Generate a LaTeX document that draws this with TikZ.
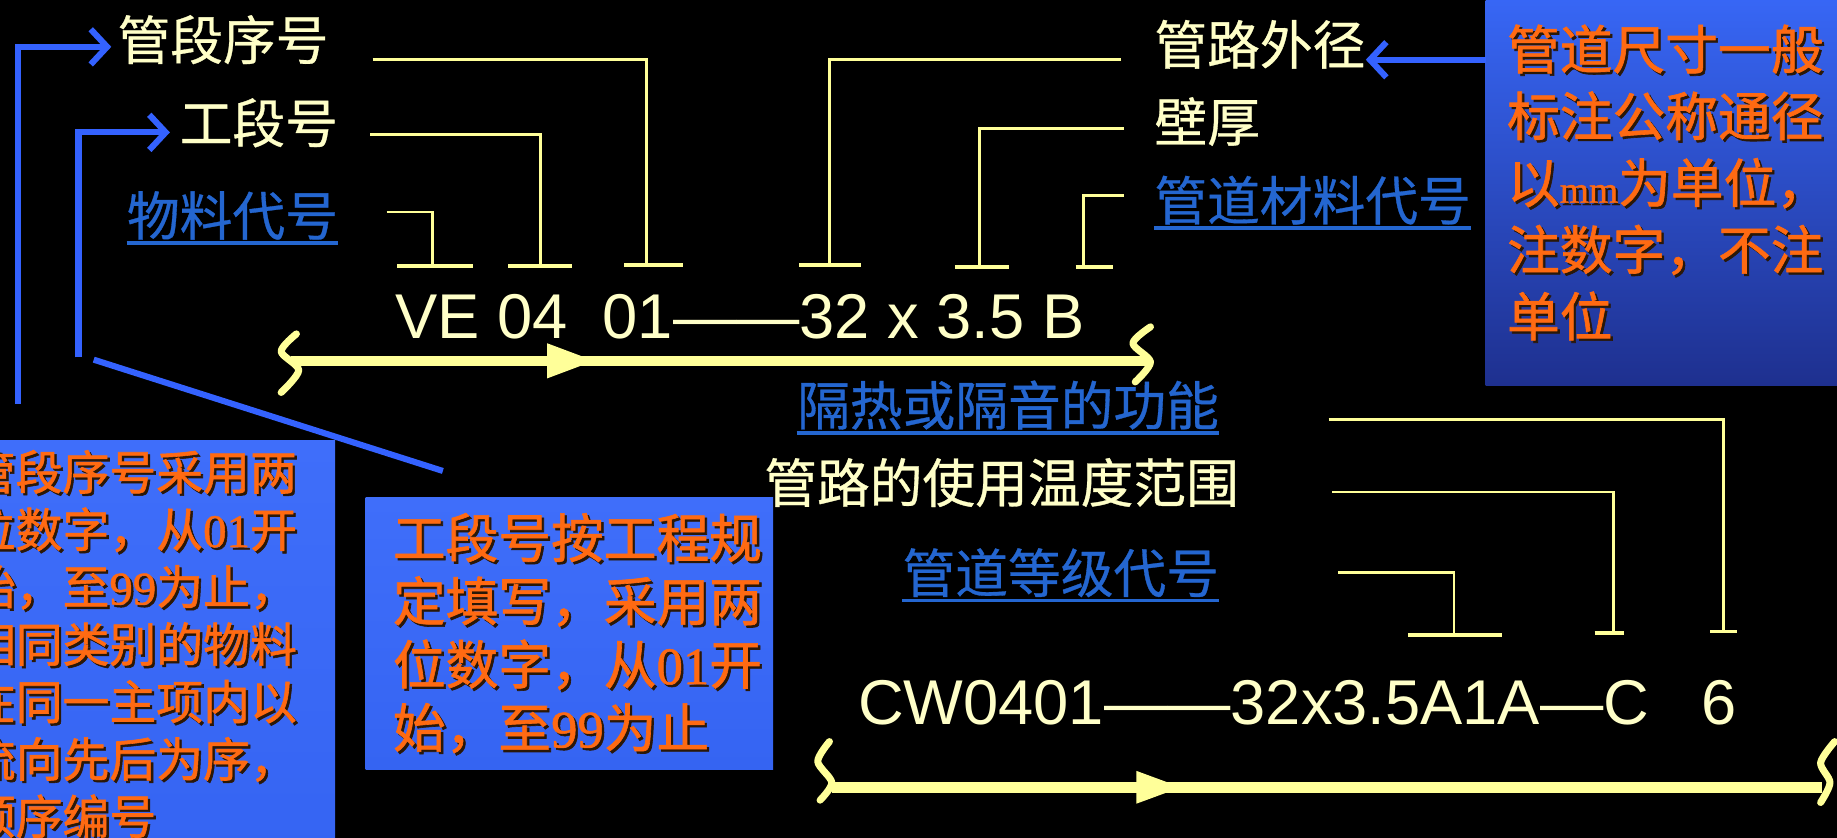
\documentclass[tikz,border=0pt]{standalone}
\usepackage{fontspec}
\newfontfamily\cjk[FakeBold=0.6]{Noto Sans CJK SC}
\newfontfamily\cjkb[FakeBold=1.2]{Noto Sans CJK SC}
\newfontfamily\arial{Liberation Sans}
\newfontfamily\tms[FakeBold=1]{Liberation Serif}
\usetikzlibrary{arrows.meta,calc}
\definecolor{ylw}{HTML}{FFFF99}
\definecolor{ytxt}{HTML}{FFFFC8}
\definecolor{lnk}{HTML}{2466D0}
\definecolor{barrow}{HTML}{3462FF}
\definecolor{org}{HTML}{FF6A12}
\definecolor{shd}{HTML}{2A1808}
\definecolor{bxtop}{HTML}{3F6EFA}
\definecolor{bxmid}{HTML}{1C2C8A}
\definecolor{bxbot}{HTML}{3564F2}
\definecolor{rbtop}{HTML}{3868F8}
\definecolor{rbbot}{HTML}{1E308F}
\begin{document}
\begin{tikzpicture}[x=0.5pt,y=-0.5pt,
  lbl/.style={anchor=west, inner sep=0pt, font=\cjk\fontsize{22.5pt}{27pt}\selectfont, text height=.7em, text depth=.3em},
  ylbl/.style={lbl, text=ytxt},
  blbl/.style={lbl, text=lnk},
  uline/.style={draw=lnk, line width=1.5pt},
  leader/.style={draw=ylw, line width=1.2pt},
  tbar/.style={draw=ylw, line width=1.6pt},
  barr/.style={draw=barrow, line width=2.6pt, -{Straight Barb[length=7pt,width=15pt]}},
  bline/.style={draw=barrow, line width=2.6pt},
  flowline/.style={draw=ylw, line width=4.5pt},
  flowhead/.style={fill=ylw},
  wave/.style={draw=ylw, line width=3pt, line cap=round, line join=round},
  code/.style={anchor=base west, inner sep=0pt, text=ytxt, font=\arial\fontsize{27pt}{32pt}\selectfont},
  otext/.style={anchor=west, inner sep=0pt, text=org, text height=.7em, text depth=.3em},
  oshadow/.style={otext, text=shd},
  fa/.style={font=\cjkb\fontsize{20pt}{24pt}\selectfont},
  fb/.style={font=\cjkb\fontsize{22.5pt}{27pt}\selectfont},
]
\clip (0,0) rectangle (1568,715);
\fill[black] (0,0) rectangle (1568,715);

% ---- boxes ----
\shade[top color=bxtop, middle color=bxmid, bottom color=bxbot] (-20,376) rectangle (286,730);
\shade[top color=bxtop, middle color=bxmid, bottom color=bxbot] (312,425) rectangle (660,657);
\shade[top color=rbtop, bottom color=rbbot] (1268,-10) rectangle (1580,329);

% ---- box texts ----
\foreach \t [count=\i] in {管段序号采用两, 位数字，从{\tms 01}开, 始，至{\tms 99}为止，, 相同类别的物料, 在同一主项内以, 流向先后为序，, 顺序编号} {
  \node[oshadow, fa] (b1s\i) at (-25,367+49*\i) {\t};
  \node[otext, fa] (b1t\i) at (-27,365+49*\i) {\t};
}
\foreach \t [count=\i] in {工段号按工程规, 定填写，采用两, 位数字，从{\tms 01}开, 始，至{\tms 99}为止} {
  \node[oshadow, fb] (b2s\i) at (337,420+54*\i) {\t};
  \node[otext, fb] (b2t\i) at (335,418+54*\i) {\t};
}
\foreach \t [count=\i] in {管道尺寸一般, 标注公称通径, 以{\tms\fontsize{16pt}{16pt}\selectfont mm}为单位，, 注数字，不注, 单位} {
  \node[oshadow, fb] (b3s\i) at (1288,0+57*\i) {\t};
  \node[otext, fb] (b3t\i) at (1286,-2+57*\i) {\t};
}

% ---- labels ----
\node[ylbl] (l1) at (100,47) {管段序号};
\node[ylbl] (l2) at (153,118) {工段号};
\node[blbl] (l3) at (108,197) {物料代号};
\node[ylbl] (r1) at (985,51) {管路外径};
\node[ylbl] (r2) at (985,117) {壁厚};
\node[blbl] (r3) at (985,184) {管道材料代号};
\node[blbl] (m1) at (680,359) {隔热或隔音的功能};
\node[ylbl] (m2) at (652,425) {管路的使用温度范围};
\node[blbl] (m3) at (770,502) {管道等级代号};
\foreach \n in {l3,r3,m1,m3} {\draw[uline] (\n.south west) -- (\n.south east);}

% ---- code strings ----
\node[code] (c1) at (337,289) {VE 04\ \ 01——32 x 3.5 B};
\node[code] (c2) at (732,618) {CW0401——32x3.5A1A—C\ \ \ 6};

% ---- leaders ----
\coordinate (p1a) at (318,51);  \coordinate (p1b) at (552,226);
\coordinate (p2a) at (316,115); \coordinate (p2b) at (461,227);
\coordinate (p3a) at (330,181); \coordinate (p3b) at (369,227);
\coordinate (q1a) at (957,51);  \coordinate (q1b) at (708,226);
\coordinate (q2a) at (959,110); \coordinate (q2b) at (836,228);
\coordinate (q3a) at (959,167); \coordinate (q3b) at (925,228);
\coordinate (n1a) at (1134,358); \coordinate (n1b) at (1471,539);
\coordinate (n2a) at (1137,420); \coordinate (n2b) at (1377,540);
\coordinate (n3a) at (1142,489); \coordinate (n3b) at (1241,542);
\foreach \p in {p1,p2,p3,q1,q2,q3,n1,n2,n3} {\draw[leader] (\p a) -| (\p b);}
\draw[tbar] ($(p1b)+(-19,0)$) -- ($(p1b)+(31,0)$);
\draw[tbar] ($(p2b)+(-27,0)$) -- ($(p2b)+(27,0)$);
\draw[tbar] ($(p3b)+(-30,0)$) -- ($(p3b)+(35,0)$);
\draw[tbar] ($(q1b)+(-26,0)$) -- ($(q1b)+(27,0)$);
\draw[tbar] ($(q2b)+(-21,0)$) -- ($(q2b)+(25,0)$);
\draw[tbar] ($(q3b)+(-7,0)$) -- ($(q3b)+(25,0)$);
\draw[tbar] ($(n1b)+(-11,0)$) -- ($(n1b)+(12,0)$);
\draw[tbar] ($(n2b)+(-16,0)$) -- ($(n2b)+(9,0)$);
\draw[tbar] ($(n3b)+(-39,0)$) -- ($(n3b)+(41,0)$);

% ---- flow lines ----
\coordinate (f1s) at (248,308); \coordinate (f1e) at (982,308);
\draw[flowline] (f1s) -- (f1e);
\fill[flowhead] (467,293) -- (507,308) -- (467,323) -- cycle;
\draw[wave] plot[smooth, tension=.5] coordinates {(253,285) (240,300) (255,316) (240,335)};
\draw[wave] plot[smooth, tension=.5] coordinates {(982,279) (967,293) (982,309) (969,326)};
\coordinate (f2s) at (710,672); \coordinate (f2e) at (1555,672);
\draw[flowline] (f2s) -- (f2e);
\fill[flowhead] (970,658) -- (1008,672) -- (970,686) -- cycle;
\draw[wave] plot[smooth, tension=.5] coordinates {(708,633) (698,650) (710,668) (700,683)};
\draw[wave] plot[smooth, tension=.5] coordinates {(1566,633) (1554,651) (1562,668) (1554,685)};

% ---- blue arrows ----
\coordinate (a1) at (15,345);
\draw[barr] (a1) |- ([xshift=-2.5pt,yshift=3.5pt]l1.west);
\coordinate (a2) at (67,305);
\draw[barr] (a2) |- ([xshift=-4pt,yshift=2.5pt]l2.west);
\coordinate (s1) at (80,307); \coordinate (s2) at (378,402);
\draw[bline] (s1) -- (s2);
\coordinate (rb) at (1268,51);
\draw[barr] (rb) -- (rb -| r1.east);
\end{tikzpicture}
\end{document}
